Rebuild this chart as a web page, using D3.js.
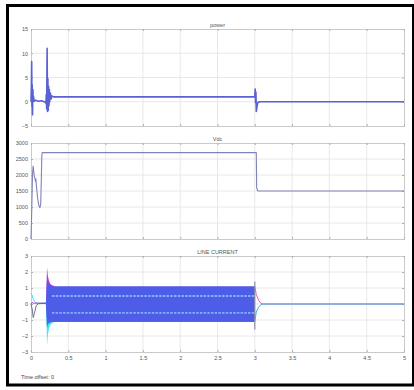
<!DOCTYPE html>
<html>
<head>
<meta charset="utf-8">
<script src="https://cdn.jsdelivr.net/npm/d3@7"></script>
<style>
  html, body { margin: 0; padding: 0; background: #fff; }
  svg { display: block; font-family: "Liberation Sans", Arial, sans-serif; }
</style>
</head>
<body>
<svg id="chart" width="414" height="390"></svg>
<script>
// time axis (s)
const xTicks = [0, 0.5, 1, 1.5, 2, 2.5, 3, 3.5, 4, 4.5, 5];
const xTickLabels = ["0", "0.5", "1", "1.5", "2", "2.5", "3", "3.5", "4", "4.5", "5"];

// power
const powerT = [0, 0.005, 0.009, 0.013, 0.016, 0.02, 0.025, 0.03, 0.035, 0.04, 0.06, 0.1, 0.14, 0.18, 0.2,
  0.205, 0.21, 0.216, 0.221, 0.226, 0.231, 0.236, 0.241, 0.246, 0.251, 0.26, 0.27, 0.28, 0.3,
  3.0, 3.005, 3.01, 3.015, 3.02, 3.03, 3.04, 3.06, 5];
const powerV = [0, 3, 8.3, -1, 3.5, -2.7, 2.5, 0.5, 1.0, 0.1, 0.3, 0.1, 0.2, 0.0, -0.3,
  1.5, -1.5, 11, -2, 4.8, -1.8, 3.2, -0.8, 2.5, 0, 1.8, 0.6, 1.2, 1.0,
  1.0, 2.6, -0.2, 2.0, -2.0, -1, -0.2, 0, 0];
const powerTicks = [-5, 0, 5, 10, 15];

// Vdc
const vdcT = [0, 0.01, 0.02, 0.028, 0.035, 0.045, 0.055, 0.06, 0.065, 0.075, 0.09, 0.105, 0.12, 0.13,
  0.138, 0.145, 0.15, 3.02, 3.025, 3.04, 5];
const vdcV = [0, 900, 2000, 2280, 2150, 1950, 1880, 1800, 1880, 1600, 1250, 1050, 980, 1100,
  1800, 2600, 2700, 2700, 1600, 1500, 1500];
const vdcTicks = [0, 500, 1000, 1500, 2000, 2500, 3000];

// line current: start-up transients of the three phases
const iStartT = [0, 0.015, 0.03, 0.045, 0.07, 0.1, 0.2];
const iStartA = [0, -0.3, -0.85, -0.6, -0.1, 0.02, 0.05];
const iStartB = [0, 0.1, 0.05, 0.05, 0.05, 0.05, 0.05];
const iStartC = [0.65, 0.55, 0.3, 0.15, 0.06, 0.05, 0.05];

// line current: envelopes of the running phases
const envT = [0.2, 0.21, 0.215, 0.225, 0.24, 0.26, 0.29, 0.33, 0.4, 3.0];
const envAHi = [0, 1.2, 1.6, 1.35, 1.2, 1.12, 1.1, 1.1, 1.1, 1.1];
const envALo = [0, -1.2, -1.5, -1.3, -1.2, -1.15, -1.12, -1.12, -1.12, -1.12];
const envBHi = [0, 1.5, 2.3, 1.8, 1.45, 1.25, 1.15, 1.1, 1.1, 1.1];
const envBLo = [0, -0.5, -0.9, -1.0, -1.05, -1.1, -1.1, -1.1, -1.1, -1.1];
const envCHi = [0, 0.6, 0.9, 1.0, 1.05, 1.1, 1.1, 1.1, 1.1, 1.1];
const envCLo = [0, -1.5, -2.6, -2.0, -1.55, -1.3, -1.15, -1.12, -1.12, -1.12];
const crossLevels = [0.5, -0.55];

// line current: switch-off at t = 3
const iCutT = [3.0, 3.0];
const iCutV = [1.4, -1.6];
const iEndT = [3.0, 3.02, 3.05, 3.08, 3.12, 5];
const iEndB = [1.1, 0.6, 0.25, 0.05, 0, 0];
const iEndC = [-1.1, -0.5, -0.2, -0.05, 0, 0];
const currentTicks = [-3, -2, -1, 0, 1, 2, 3];

const svg = d3.select("#chart");

// outer frame
svg.append("rect")
  .attr("x", 7.5).attr("y", 5.5)
  .attr("width", 406).attr("height", 379.5)
  .attr("fill", "none").attr("stroke", "#000").attr("stroke-width", 3);

const x = d3.scaleLinear().domain([0, 5]).range([31, 404]);

function panel(top, bottom, domain, ticks, title, showX) {
  const y = d3.scaleLinear().domain(domain).range([bottom, top]);
  const g = svg.append("g");

  // grid
  g.append("g").selectAll("line").data(xTicks.slice(1, -1)).join("line")
    .attr("x1", d => x(d)).attr("x2", d => x(d))
    .attr("y1", top).attr("y2", bottom)
    .attr("stroke", "#e2e2e2").attr("stroke-width", 0.8);
  g.append("g").selectAll("line").data(ticks.slice(1, -1)).join("line")
    .attr("x1", 31).attr("x2", 404)
    .attr("y1", d => y(d)).attr("y2", d => y(d))
    .attr("stroke", "#e2e2e2").attr("stroke-width", 0.8);

  // axes on all four sides, ticks inside
  const axes = [
    d3.axisLeft(y).tickValues(ticks).tickSize(-2).tickPadding(3).tickFormat(d3.format("d")),
    d3.axisRight(y).tickValues(ticks).tickSize(-2).tickFormat(""),
    d3.axisTop(x).tickValues(xTicks).tickSize(-2).tickFormat(""),
    d3.axisBottom(x).tickValues(xTicks).tickSize(-2).tickPadding(4)
      .tickFormat((d, i) => showX ? xTickLabels[i] : "")
  ];
  const shift = ["translate(31,0)", "translate(404,0)", `translate(0,${top})`, `translate(0,${bottom})`];
  axes.forEach((a, i) => {
    const ag = g.append("g").attr("transform", shift[i]).call(a);
    ag.select(".domain").attr("stroke", "#c4c4c4").attr("stroke-width", 0.9);
    ag.selectAll(".tick line").attr("stroke", "#b0b0b0");
    ag.selectAll("text").attr("fill", "#555").attr("font-size", 5.5);
  });

  g.append("text")
    .attr("x", x(2.5)).attr("y", top - 2.5)
    .attr("text-anchor", "middle")
    .attr("font-size", 5.5).attr("fill", "#555")
    .text(title);
  return y;
}

const yP = panel(29, 126, [-5, 15], powerTicks, "power", false);
const yV = panel(143, 239, [0, 3000], vdcTicks, "Vdc", false);
const yI = panel(256, 352, [-3, 3], currentTicks, "LINE CURRENT", true);

function drawLine(ts, vs, y, color, w) {
  svg.append("path")
    .datum(ts.map((t, i) => [t, vs[i]]))
    .attr("fill", "none")
    .attr("stroke", color)
    .attr("stroke-width", w)
    .attr("stroke-linejoin", "round")
    .attr("d", d3.line().x(d => x(d[0])).y(d => y(d[1])));
}

function drawBand(ts, hi, lo, y, color, op) {
  svg.append("path")
    .datum(ts.map((t, i) => [t, hi[i], lo[i]]))
    .attr("fill", color)
    .attr("fill-opacity", op)
    .attr("d", d3.area().x(d => x(d[0])).y0(d => y(d[2])).y1(d => y(d[1])));
}

// power
drawLine(powerT, powerV, yP, "#5a61d2", 1.6);

// Vdc
drawLine(vdcT, vdcV, yV, "#8083b5", 1.1);

// line current
drawLine(iStartT, iStartC, yI, "#45e0ee", 1);
drawLine(iStartT, iStartA, yI, "#6a7090", 1);
drawLine(iStartT, iStartB, yI, "#a040d8", 1);

drawBand(envT, envCHi, envCLo, yI, "#46e6f2", 1);
drawBand(envT, envBHi, envBLo, yI, "#b236e2", 1);
drawBand(envT, envAHi, envALo, yI, "#4063e8", 0.88);

svg.append("g").selectAll("line").data(crossLevels).join("line")
  .attr("x1", x(0.28)).attr("x2", x(3.0))
  .attr("y1", d => yI(d)).attr("y2", d => yI(d))
  .attr("stroke", "#8ec2ff").attr("stroke-width", 1.8)
  .attr("stroke-dasharray", "2.5,1.2").attr("stroke-opacity", 0.8);

drawLine(iEndT, iEndB, yI, "#e060c0", 1);
drawLine(iEndT, iEndC, yI, "#3fb0e8", 1);
drawLine(iCutT, iCutV, yI, "#8890a0", 1.2);

svg.append("text")
  .attr("x", 21).attr("y", 379)
  .attr("font-size", 5.5).attr("fill", "#444")
  .text("Time offset: 0");
</script>
</body>
</html>
